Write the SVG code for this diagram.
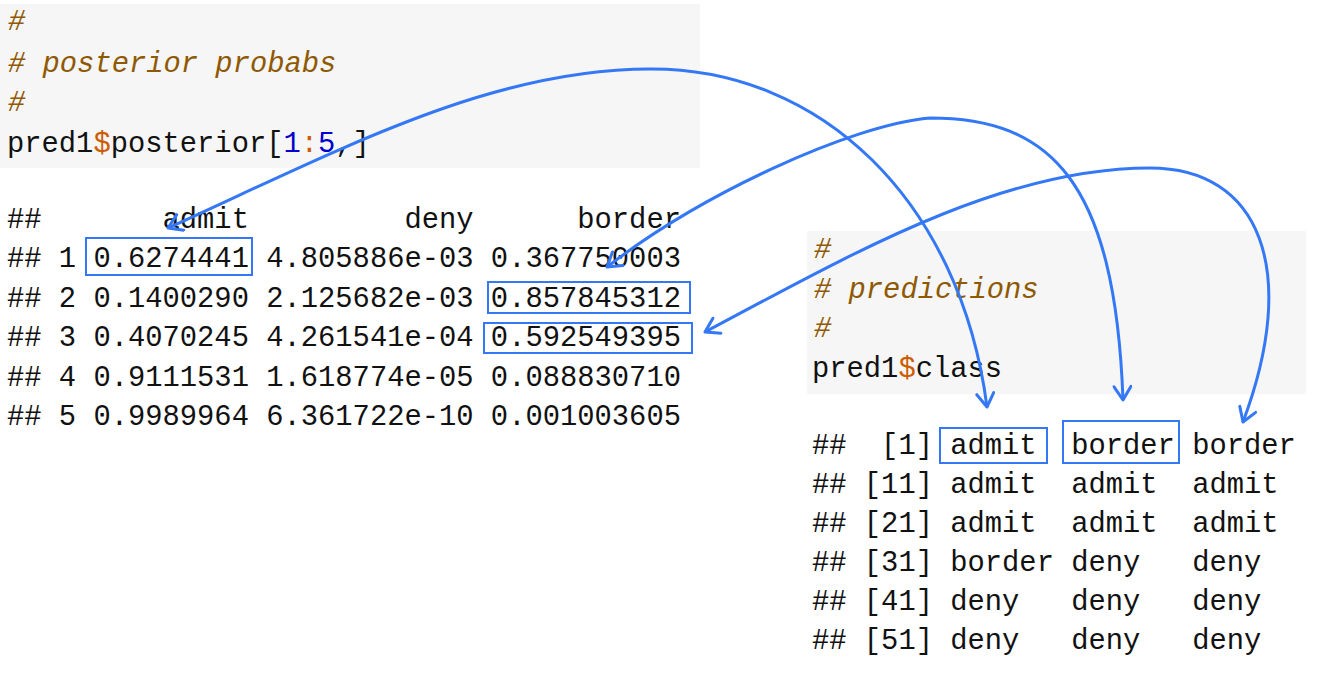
<svg xmlns="http://www.w3.org/2000/svg" width="1334" height="686" viewBox="0 0 1334 686">
<style>
text{font-family:"Liberation Mono","DejaVu Sans Mono",monospace;font-size:28.8px;fill:#111;white-space:pre}
.c{fill:#8f5902;font-style:italic}
.o{fill:#ce5c00}
.n{fill:#0000cf}
.bg{fill:#f6f6f6}
.hl{fill:none;stroke:#3478f6;stroke-width:2}
.arr{fill:none;stroke:#3478f6;stroke-width:3;marker-start:url(#ah);marker-end:url(#ah)}
</style>
<defs>
<marker id="ah" viewBox="0 0 20 20" refX="16" refY="10" markerWidth="20" markerHeight="20" markerUnits="userSpaceOnUse" orient="auto-start-reverse">
<path d="M2.5,1.5 L16,10 L2.5,18.5" fill="none" stroke="#3478f6" stroke-width="3" stroke-linecap="round" stroke-linejoin="round"/>
</marker>
</defs>
<rect width="1334" height="686" fill="#fff"/>

<g id="posterior-code">
<rect class="bg" x="0" y="4" width="700" height="164"/>
<text class="c" x="8" y="30">#</text>
<text class="c" x="8" y="72"># posterior probabs</text>
<text class="c" x="8" y="111">#</text>
<text x="7" y="152">pred1<tspan class="o">$</tspan>posterior[<tspan class="n">1</tspan><tspan class="o">:</tspan><tspan class="n">5</tspan>,]</text>
</g>

<g id="posterior-output">
<text x="7" y="228" xml:space="preserve">##       admit         deny      border</text>
<text x="7" y="267" xml:space="preserve">## 1 0.6274441 4.805886e-03 0.367750003</text>
<text x="7" y="307" xml:space="preserve">## 2 0.1400290 2.125682e-03 0.857845312</text>
<text x="7" y="346" xml:space="preserve">## 3 0.4070245 4.261541e-04 0.592549395</text>
<text x="7" y="386" xml:space="preserve">## 4 0.9111531 1.618774e-05 0.088830710</text>
<text x="7" y="425" xml:space="preserve">## 5 0.9989964 6.361722e-10 0.001003605</text>
<rect class="hl" x="86" y="238" width="166" height="37"/>
<rect class="hl" x="488" y="282" width="202" height="31"/>
<rect class="hl" x="484" y="323" width="208" height="30"/>
</g>

<g id="class-code">
<rect class="bg" x="807" y="231" width="499" height="163"/>
<text class="c" x="814" y="258">#</text>
<text class="c" x="814" y="298"># predictions</text>
<text class="c" x="814" y="337">#</text>
<text x="812" y="377">pred1<tspan class="o">$</tspan>class</text>
</g>

<g id="class-output">
<text x="812" y="454" xml:space="preserve">##  [1] admit  border border</text>
<text x="812" y="493" xml:space="preserve">## [11] admit  admit  admit</text>
<text x="812" y="532" xml:space="preserve">## [21] admit  admit  admit</text>
<text x="812" y="571" xml:space="preserve">## [31] border deny   deny</text>
<text x="812" y="610" xml:space="preserve">## [41] deny   deny   deny</text>
<text x="812" y="649" xml:space="preserve">## [51] deny   deny   deny</text>
<rect class="hl" x="940" y="428" width="107" height="35"/>
<rect class="hl" x="1063" y="421" width="116" height="42"/>
</g>

<g id="connectors">
<path class="arr" d="M168,228 C340,150 490,69 650,69 C820,68 960,200 987,407"/>
<path class="arr" d="M607,267 C700,195 850,125 930,118 C1050,118 1115,180 1123,400"/>
<path class="arr" d="M705,332 C850,255 1000,168 1150,168 C1260,168 1300,270 1243,422"/>
</g>
</svg>
